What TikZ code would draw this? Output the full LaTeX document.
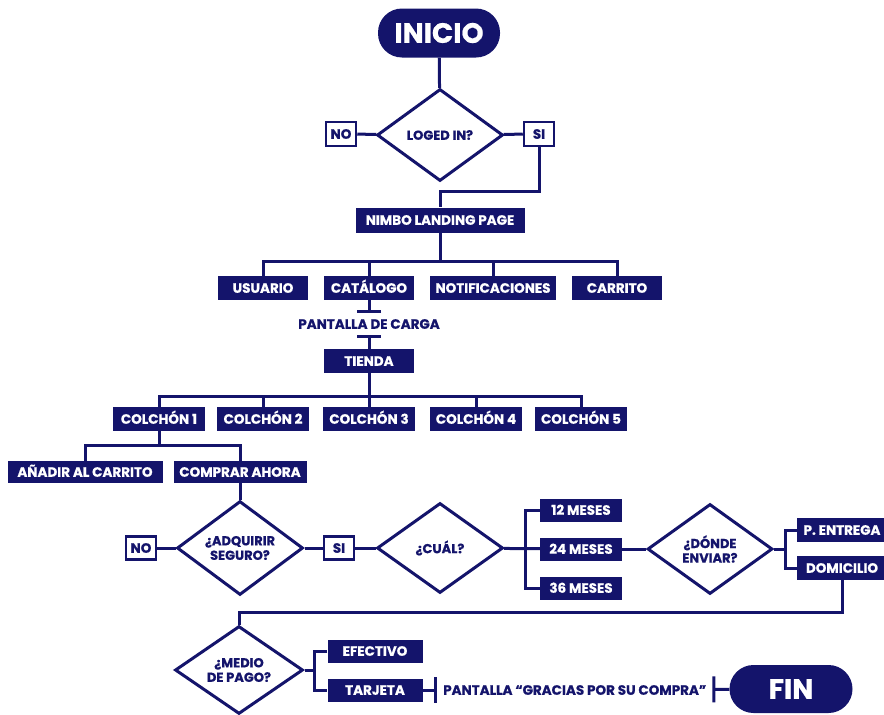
\documentclass[tikz,border=0pt]{standalone}
\usepackage{fontspec}
\setmainfont{Poppins}[BoldFeatures={FakeBold=0.6}]
\usetikzlibrary{arrows.meta,shapes.geometric}
\definecolor{nimbo}{HTML}{14146B}
\tikzset{every node/.style={font=\bfseries\fontsize{13.5}{14}\selectfont},
 box/.style={fill=nimbo,text=white,minimum width=90pt,minimum height=24pt,inner sep=0pt,text height=9.5pt,text depth=0pt},
 opt/.style={draw=nimbo,line width=2.5pt,fill=white,text=nimbo,minimum width=30pt,minimum height=24pt,inner sep=0pt,text height=9.5pt,text depth=0pt},
 deci/.style={diamond,draw=nimbo,line width=3pt,fill=white,text=nimbo,align=center,minimum width=126pt,minimum height=90pt,inner sep=0pt,font=\bfseries\fontsize{13}{14.5}\selectfont},
 pill/.style={rounded corners=24pt,fill=nimbo,text=white,minimum width=122pt,minimum height=49pt,font=\bfseries\fontsize{28}{28}\selectfont},
 lbl/.style={text=nimbo,text height=9.5pt,text depth=0pt,inner xsep=6pt,inner ysep=6pt},
 edge/.style={draw=nimbo,line width=3pt}}
\begin{document}
\begin{tikzpicture}[x=1pt,y=-1pt]
\useasboundingbox (0,0) rectangle (884,715);
\node[pill] (inicio) at (439,33) {INICIO};
\node[deci,minimum height=92pt] (loged) at (440,135) {LOGED IN?};
\node[opt] (no1) at (341,134) {NO};\node[opt] (si1) at (539,134) {SI};
\node[box,minimum width=169pt,minimum height=25pt] (nimbo) at (440,220) {NIMBO LANDING PAGE};
\node[box] (usu) at (263,288) {USUARIO};\node[box] (cat) at (369,288) {CATÁLOGO};
\node[box,minimum width=126pt] (noti) at (493,288) {NOTIFICACIONES};\node[box] (carr) at (617,288) {CARRITO};
\node[lbl] (carga) at (369,324) {PANTALLA DE CARGA};
\node[box] (tienda) at (369,361) {TIENDA};
\foreach \n/\x in {1/159,2/263,3/369,4/476,5/581}{\node[box,minimum width=92pt] (c\n) at (\x,419) {COLCHÓN \n};}
\node[box,minimum width=155pt,minimum height=22pt] (anadir) at (85,472) {AÑADIR AL CARRITO};
\node[box,minimum width=133pt,minimum height=22pt] (comprar) at (240,472) {COMPRAR AHORA};
\node[deci,minimum height=88pt] (adq) at (240,548) {¿ADQUIRIR\\SEGURO?};
\node[opt,minimum height=23pt] (no2) at (141,548) {NO};\node[opt,minimum height=23pt] (si2) at (339,548) {SI};
\node[deci] (cual) at (440,548) {¿CUÁL?};
\foreach \m/\y in {12/510,24/549,36/588}{\node[box,minimum width=82pt,minimum height=23pt] (m\m) at (581,\y) {\m{} MESES};}
\node[deci,minimum width=125pt] (donde) at (710,549) {¿DÓNDE\\ENVIAR?};
\node[box] (entrega) at (842,530) {P. ENTREGA};\node[box] (domic) at (842,568) {DOMICILIO};
\node[deci,minimum width=128pt,minimum height=86pt] (medio) at (239,670) {¿MEDIO\\DE PAGO?};
\node[box,minimum width=95pt,minimum height=23pt] (efec) at (375,651) {EFECTIVO};
\node[box,minimum width=95pt,minimum height=23pt] (tarj) at (375,690) {TARJETA};
\node[lbl,anchor=west] (gracias) at (437,690) {PANTALLA “GRACIAS POR SU COMPRA”};
\node[pill,minimum width=123pt,minimum height=48pt] (fin) at (791,689) {FIN};
\draw[edge] (inicio) -- (loged);\draw[edge] (no1) -- (loged);\draw[edge] (loged) -- (si1);
\draw[edge] (si1.south) -- ++(0,44) -| (nimbo.north);
\draw[edge] (nimbo.south) -- ++(0,29) coordinate (b1);
\foreach \n in {usu,cat,noti,carr}{\draw[edge] (b1) -| (\n.north);}
\draw[edge,-{Bar[width=24pt]}] (cat) -- (carga);\draw[edge,{Bar[width=24pt]}-] (carga) -- (tienda);
\draw[edge] (tienda.south) -- ++(0,23) coordinate (b2);
\foreach \n in {1,...,5}{\draw[edge] (b2) -| (c\n.north);}
\draw[edge] (c1.south) -- ++(0,14) coordinate (b3);\draw[edge] (b3) -| (anadir.north);\draw[edge] (b3) -| (comprar.north);
\draw[edge] (comprar) -- (adq);\draw[edge] (no2) -- (adq);\draw[edge] (adq) -- (si2);\draw[edge] (si2) -- (cual);
\draw[edge] (cual) -- (m24);\coordinate (j1) at (525,549);\draw[edge] (m12.west) -| (j1) |- (m36.west);
\draw[edge] (m24) -- (donde);
\coordinate (j2) at (785,549);\draw[edge] (donde) -- (j2);\draw[edge] (entrega.west) -| (j2) |- (domic.west);
\draw[edge] (domic.south) -- ++(0,32) -| (medio.north);
\draw[edge] (medio.east) -- ++(10,0) coordinate (j3);\draw[edge] (efec.west) -| (j3) |- (tarj.west);
\draw[edge,-{Bar[width=26pt]}] (tarj) -- (gracias);\draw[edge,{Bar[width=26pt]}-] (gracias) -- (fin);
\end{tikzpicture}
\end{document}
